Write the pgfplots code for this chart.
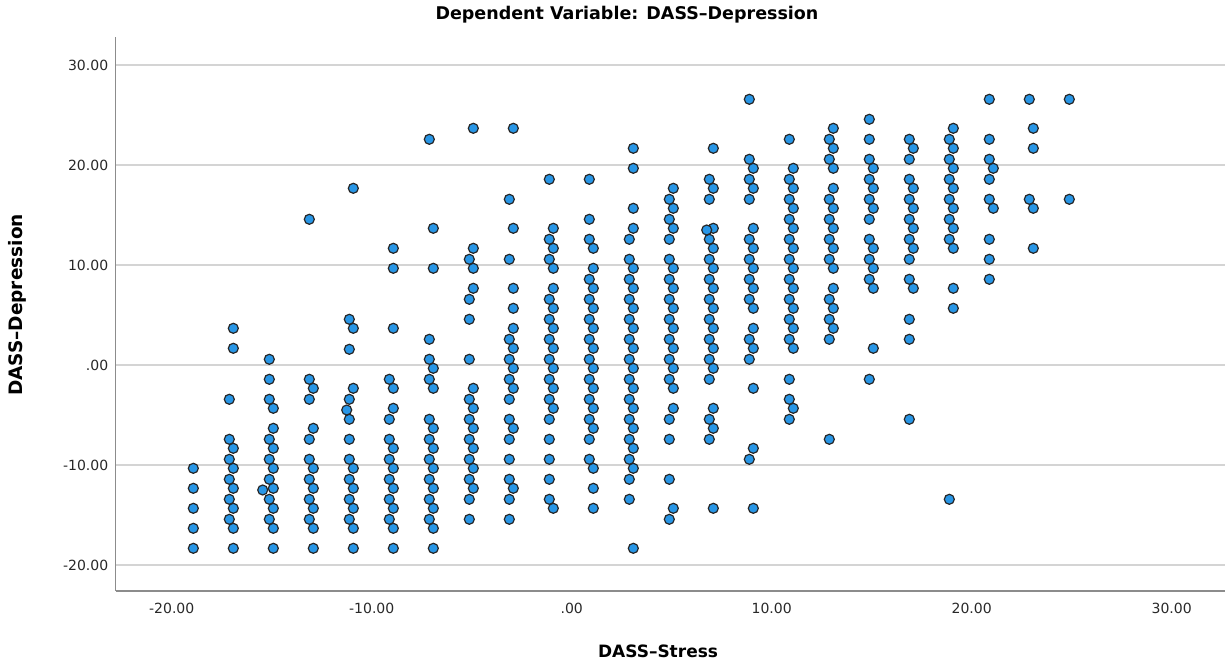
\documentclass[border=0pt]{standalone}
\usepackage{fontspec}
\setmainfont{DejaVu Sans}
\usepackage{pgfplots}
\pgfplotsset{compat=1.18}
\definecolor{dotblue}{RGB}{40,150,230}
\definecolor{gridgray}{RGB}{212,212,212}
\definecolor{axisgray}{RGB}{140,140,140}
\definecolor{ticktext}{RGB}{40,40,40}
\begin{document}
\begin{tikzpicture}
\path[use as bounding box] (0pt,0pt) rectangle (1225pt,666pt);
\begin{axis}[
  at={(571.7pt,301pt)}, anchor=origin, scale only axis,
  width=1109pt, height=554pt,
  xmin=-22.8, xmax=32.65, ymin=-22.6, ymax=32.8,
  axis x line=bottom, axis y line=left,
  axis line style={-, draw=axisgray, line width=1.2pt},
  xtick={-20,-10,0,10,20,30},
  xticklabels={-20.00,-10.00,.00,10.00,20.00,30.00},
  ytick={-20,-10,0,10,20,30},
  yticklabels={-20.00,-10.00,.00,10.00,20.00,30.00},
  major tick length=0pt,
  ymajorgrids, grid style={gridgray, line width=1.2pt},
  tick label style={font=\fontsize{14}{16}\selectfont, text=ticktext},
  xticklabel style={anchor=north, yshift=-9pt},
  yticklabel style={anchor=east, xshift=-4pt},
  clip=false,
]
\addplot[only marks, mark=*, mark size=5pt,
  mark options={fill=dotblue, draw=black!85, line width=1.2pt}] table {
x y
-18.92 -10.33
-18.92 -12.33
-18.92 -14.33
-18.92 -16.33
-18.92 -18.33
-17.12 -3.43
-17.12 -7.43
-17.12 -9.43
-17.12 -11.43
-17.12 -13.43
-17.12 -15.43
-16.92 3.67
-16.92 1.67
-16.92 -8.33
-16.92 -10.33
-16.92 -12.33
-16.92 -14.33
-16.92 -16.33
-16.92 -18.33
-15.12 0.57
-15.12 -1.43
-15.12 -3.43
-15.12 -7.43
-15.12 -9.43
-15.12 -11.43
-15.12 -13.43
-15.12 -15.43
-14.92 -4.33
-14.92 -6.33
-14.92 -8.33
-14.92 -10.33
-14.92 -12.33
-14.92 -14.33
-14.92 -16.33
-14.92 -18.33
-15.45 -12.5
-13.12 14.57
-13.12 -1.43
-13.12 -3.43
-13.12 -7.43
-13.12 -9.43
-13.12 -11.43
-13.12 -13.43
-13.12 -15.43
-12.92 -2.33
-12.92 -6.33
-12.92 -10.33
-12.92 -12.33
-12.92 -14.33
-12.92 -16.33
-12.92 -18.33
-11.12 4.57
-11.12 1.57
-11.12 -3.43
-11.12 -5.43
-11.12 -7.43
-11.12 -9.43
-11.12 -11.43
-11.12 -13.43
-11.12 -15.43
-10.92 17.67
-10.92 3.67
-10.92 -2.33
-10.92 -10.33
-10.92 -12.33
-10.92 -14.33
-10.92 -16.33
-10.92 -18.33
-11.25 -4.5
-9.12 -1.43
-9.12 -5.43
-9.12 -7.43
-9.12 -9.43
-9.12 -11.43
-9.12 -13.43
-9.12 -15.43
-8.92 11.67
-8.92 9.67
-8.92 3.67
-8.92 -2.33
-8.92 -4.33
-8.92 -8.33
-8.92 -10.33
-8.92 -12.33
-8.92 -14.33
-8.92 -16.33
-8.92 -18.33
-7.12 22.57
-7.12 2.57
-7.12 0.57
-7.12 -1.43
-7.12 -5.43
-7.12 -7.43
-7.12 -9.43
-7.12 -11.43
-7.12 -13.43
-7.12 -15.43
-6.92 13.67
-6.92 9.67
-6.92 -0.33
-6.92 -2.33
-6.92 -6.33
-6.92 -8.33
-6.92 -10.33
-6.92 -12.33
-6.92 -14.33
-6.92 -16.33
-6.92 -18.33
-5.12 10.57
-5.12 6.57
-5.12 4.57
-5.12 0.57
-5.12 -3.43
-5.12 -5.43
-5.12 -7.43
-5.12 -9.43
-5.12 -11.43
-5.12 -13.43
-5.12 -15.43
-4.92 23.67
-4.92 11.67
-4.92 9.67
-4.92 7.67
-4.92 -2.33
-4.92 -4.33
-4.92 -6.33
-4.92 -8.33
-4.92 -10.33
-4.92 -12.33
-3.12 16.57
-3.12 10.57
-3.12 2.57
-3.12 0.57
-3.12 -1.43
-3.12 -3.43
-3.12 -5.43
-3.12 -7.43
-3.12 -9.43
-3.12 -11.43
-3.12 -13.43
-3.12 -15.43
-2.92 23.67
-2.92 13.67
-2.92 7.67
-2.92 5.67
-2.92 3.67
-2.92 1.67
-2.92 -0.33
-2.92 -2.33
-2.92 -6.33
-2.92 -12.33
-1.12 18.57
-1.12 12.57
-1.12 10.57
-1.12 6.57
-1.12 4.57
-1.12 2.57
-1.12 0.57
-1.12 -1.43
-1.12 -3.43
-1.12 -5.43
-1.12 -7.43
-1.12 -9.43
-1.12 -11.43
-1.12 -13.43
-0.92 13.67
-0.92 11.67
-0.92 9.67
-0.92 7.67
-0.92 5.67
-0.92 3.67
-0.92 1.67
-0.92 -0.33
-0.92 -2.33
-0.92 -4.33
-0.92 -14.33
0.88 18.57
0.88 14.57
0.88 12.57
0.88 8.57
0.88 6.57
0.88 4.57
0.88 2.57
0.88 0.57
0.88 -1.43
0.88 -3.43
0.88 -5.43
0.88 -7.43
0.88 -9.43
1.08 11.67
1.08 9.67
1.08 7.67
1.08 5.67
1.08 3.67
1.08 1.67
1.08 -0.33
1.08 -2.33
1.08 -4.33
1.08 -6.33
1.08 -10.33
1.08 -12.33
1.08 -14.33
2.88 12.57
2.88 10.57
2.88 8.57
2.88 6.57
2.88 4.57
2.88 2.57
2.88 0.57
2.88 -1.43
2.88 -3.43
2.88 -5.43
2.88 -7.43
2.88 -9.43
2.88 -11.43
2.88 -13.43
3.08 21.67
3.08 19.67
3.08 15.67
3.08 13.67
3.08 9.67
3.08 7.67
3.08 5.67
3.08 3.67
3.08 1.67
3.08 -0.33
3.08 -2.33
3.08 -4.33
3.08 -6.33
3.08 -8.33
3.08 -10.33
3.08 -18.33
4.88 16.57
4.88 14.57
4.88 12.57
4.88 10.57
4.88 8.57
4.88 6.57
4.88 4.57
4.88 2.57
4.88 0.57
4.88 -1.43
4.88 -5.43
4.88 -7.43
4.88 -11.43
4.88 -15.43
5.08 17.67
5.08 15.67
5.08 13.67
5.08 9.67
5.08 7.67
5.08 5.67
5.08 3.67
5.08 1.67
5.08 -0.33
5.08 -2.33
5.08 -4.33
5.08 -14.33
6.88 18.57
6.88 16.57
6.88 12.57
6.88 10.57
6.88 8.57
6.88 6.57
6.88 4.57
6.88 2.57
6.88 0.57
6.88 -1.43
6.88 -5.43
6.88 -7.43
7.08 21.67
7.08 17.67
7.08 13.67
7.08 11.67
7.08 9.67
7.08 7.67
7.08 5.67
7.08 3.67
7.08 1.67
7.08 -0.33
7.08 -4.33
7.08 -6.33
7.08 -14.33
6.75 13.5
8.88 26.57
8.88 20.57
8.88 18.57
8.88 16.57
8.88 12.57
8.88 10.57
8.88 8.57
8.88 6.57
8.88 2.57
8.88 0.57
8.88 -9.43
9.08 19.67
9.08 17.67
9.08 13.67
9.08 11.67
9.08 9.67
9.08 7.67
9.08 5.67
9.08 3.67
9.08 1.67
9.08 -2.33
9.08 -8.33
9.08 -14.33
10.88 22.57
10.88 18.57
10.88 16.57
10.88 14.57
10.88 12.57
10.88 10.57
10.88 8.57
10.88 6.57
10.88 4.57
10.88 2.57
10.88 -1.43
10.88 -3.43
10.88 -5.43
11.08 19.67
11.08 17.67
11.08 15.67
11.08 13.67
11.08 11.67
11.08 9.67
11.08 7.67
11.08 5.67
11.08 3.67
11.08 1.67
11.08 -4.33
12.88 22.57
12.88 20.57
12.88 16.57
12.88 14.57
12.88 12.57
12.88 10.57
12.88 6.57
12.88 4.57
12.88 2.57
12.88 -7.43
13.08 23.67
13.08 21.67
13.08 19.67
13.08 17.67
13.08 15.67
13.08 13.67
13.08 11.67
13.08 9.67
13.08 7.67
13.08 5.67
13.08 3.67
14.88 24.57
14.88 22.57
14.88 20.57
14.88 18.57
14.88 16.57
14.88 14.57
14.88 12.57
14.88 10.57
14.88 8.57
14.88 -1.43
15.08 19.67
15.08 17.67
15.08 15.67
15.08 11.67
15.08 9.67
15.08 7.67
15.08 1.67
16.88 22.57
16.88 20.57
16.88 18.57
16.88 16.57
16.88 14.57
16.88 12.57
16.88 10.57
16.88 8.57
16.88 4.57
16.88 2.57
16.88 -5.43
17.08 21.67
17.08 17.67
17.08 15.67
17.08 13.67
17.08 11.67
17.08 7.67
18.88 22.57
18.88 20.57
18.88 18.57
18.88 16.57
18.88 14.57
18.88 12.57
18.88 -13.43
19.08 23.67
19.08 21.67
19.08 19.67
19.08 17.67
19.08 15.67
19.08 13.67
19.08 11.67
19.08 7.67
19.08 5.67
20.88 26.57
20.88 22.57
20.88 20.57
20.88 18.57
20.88 16.57
20.88 12.57
20.88 10.57
20.88 8.57
21.08 19.67
21.08 15.67
22.88 26.57
22.88 16.57
23.08 23.67
23.08 21.67
23.08 15.67
23.08 11.67
24.88 26.57
24.88 16.57
};
\end{axis}
\node[font=\bfseries\fontsize{17.5}{20}\selectfont] at (627pt,651pt) {Dependent Variable: DASS–Depression};
\node[font=\bfseries\fontsize{17}{19}\selectfont] at (658pt,15pt) {DASS–Stress};
\node[font=\bfseries\fontsize{18.5}{20}\selectfont, rotate=90] at (17pt,361pt) {DASS–Depression};
\end{tikzpicture}
\end{document}
